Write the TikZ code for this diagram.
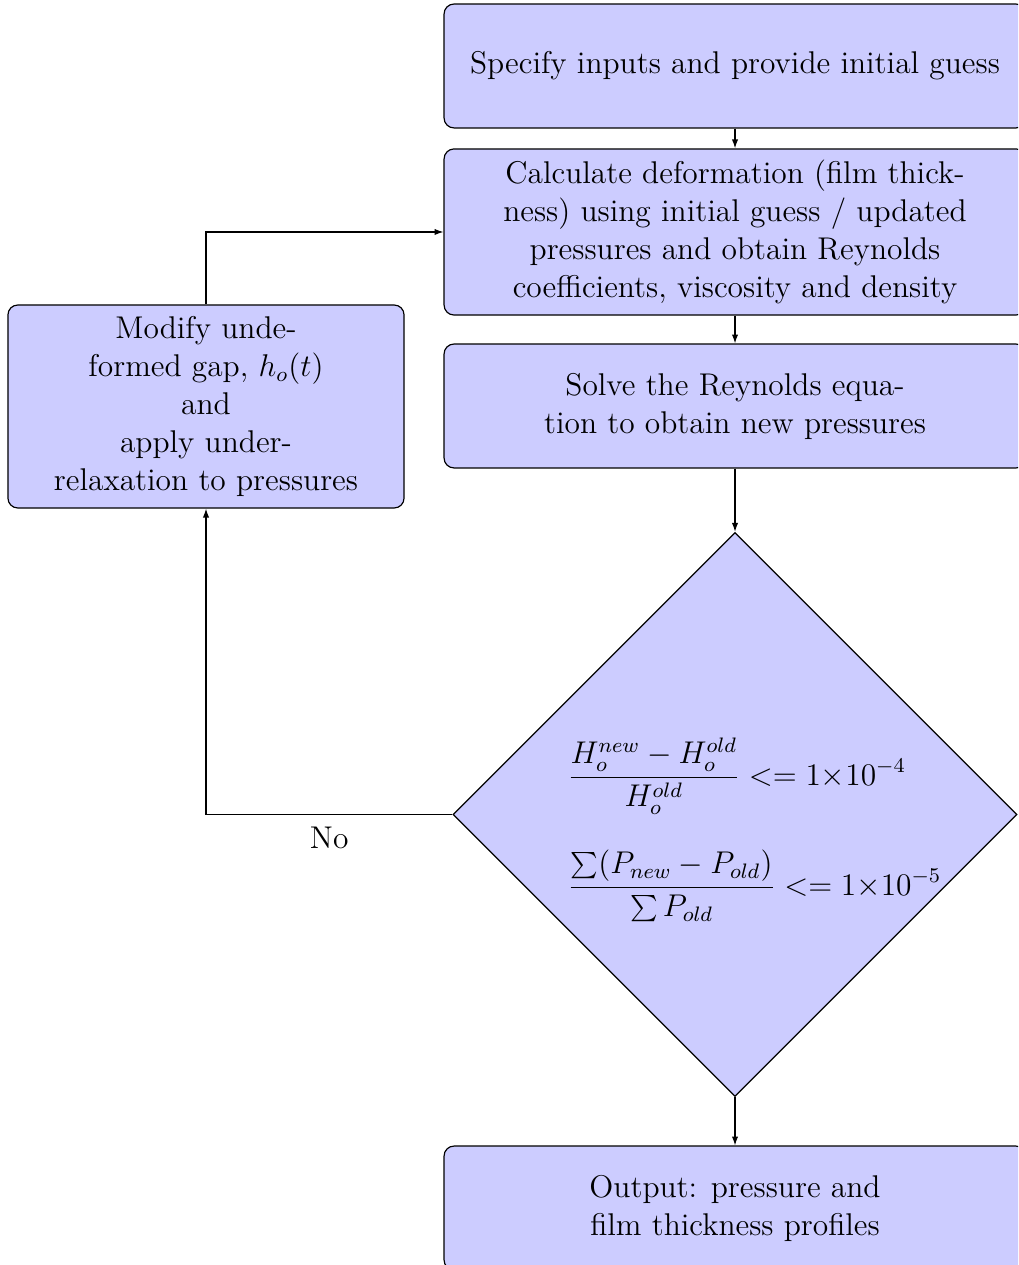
\documentclass[12pt,tikz,border=0pt]{standalone}
\usetikzlibrary{shapes.geometric,arrows.meta}
\definecolor{boxfill}{RGB}{204,204,255}
\begin{document}
\begin{tikzpicture}[x=0.3817pt,y=-0.3817pt,
  box/.style={draw=black, fill=boxfill, rounded corners=3.8pt, line width=0.45pt,
    align=center, minimum width=222.1pt, minimum height=47.3pt, inner sep=0pt},
  sidebox/.style={box, minimum width=151.2pt, minimum height=77.5pt},
  decision/.style={draw=black, fill=boxfill, diamond, aspect=1, line width=0.45pt,
    minimum width=215.3pt, minimum height=215.3pt, inner sep=0pt},
  arr/.style={line width=0.45pt, -{Latex[length=3.4pt,width=2.4pt]}}]
\useasboundingbox (0,0) rectangle (1018,1265);
\clip (0,0) rectangle (1018,1265);

\node[box] (b1) at (735,66) {Specify inputs and provide initial guess};
\node[box, minimum height=63.4pt] (b2) at (735,232)
  {Calculate deformation (film thick-\\ness) using initial guess / updated\\pressures and obtain Reynolds\\coefficients, viscosity and density};
\node[box] (b3) at (735,406) {Solve the Reynolds equa-\\tion to obtain new pressures};
\node[decision] (dec) at (735,814.5) {};
\node[anchor=base west, inner sep=0pt] (f1) at (567,785)
  {$\displaystyle \frac{H_o^{new}-H_o^{old}}{H_o^{old}} <= 1{\times}10^{-4}$};
\node[anchor=base west, inner sep=0pt] (f2) at (567,895)
  {$\displaystyle \frac{\sum(P_{new}-P_{old})}{\sum P_{old}} <= 1{\times}10^{-5}$};
\node[box] (b4) at (735,1208) {Output: pressure and\\film thickness profiles};
\node[sidebox] (side) at (206,406.5)
  {Modify unde-\\formed gap, $h_o(t)$\\and\\apply under-\\relaxation to pressures};

\draw[arr] (b1) -- (b2);
\draw[arr] (b2) -- (b3);
\draw[arr] (b3) -- (dec);
\draw[arr] (dec) -- (b4);
\draw[arr] (dec.west) -| node[pos=0.25, below=0.4pt] (no) {No} (side.south);
\draw[arr] (side.north) |- (b2.west);
\end{tikzpicture}
\end{document}
